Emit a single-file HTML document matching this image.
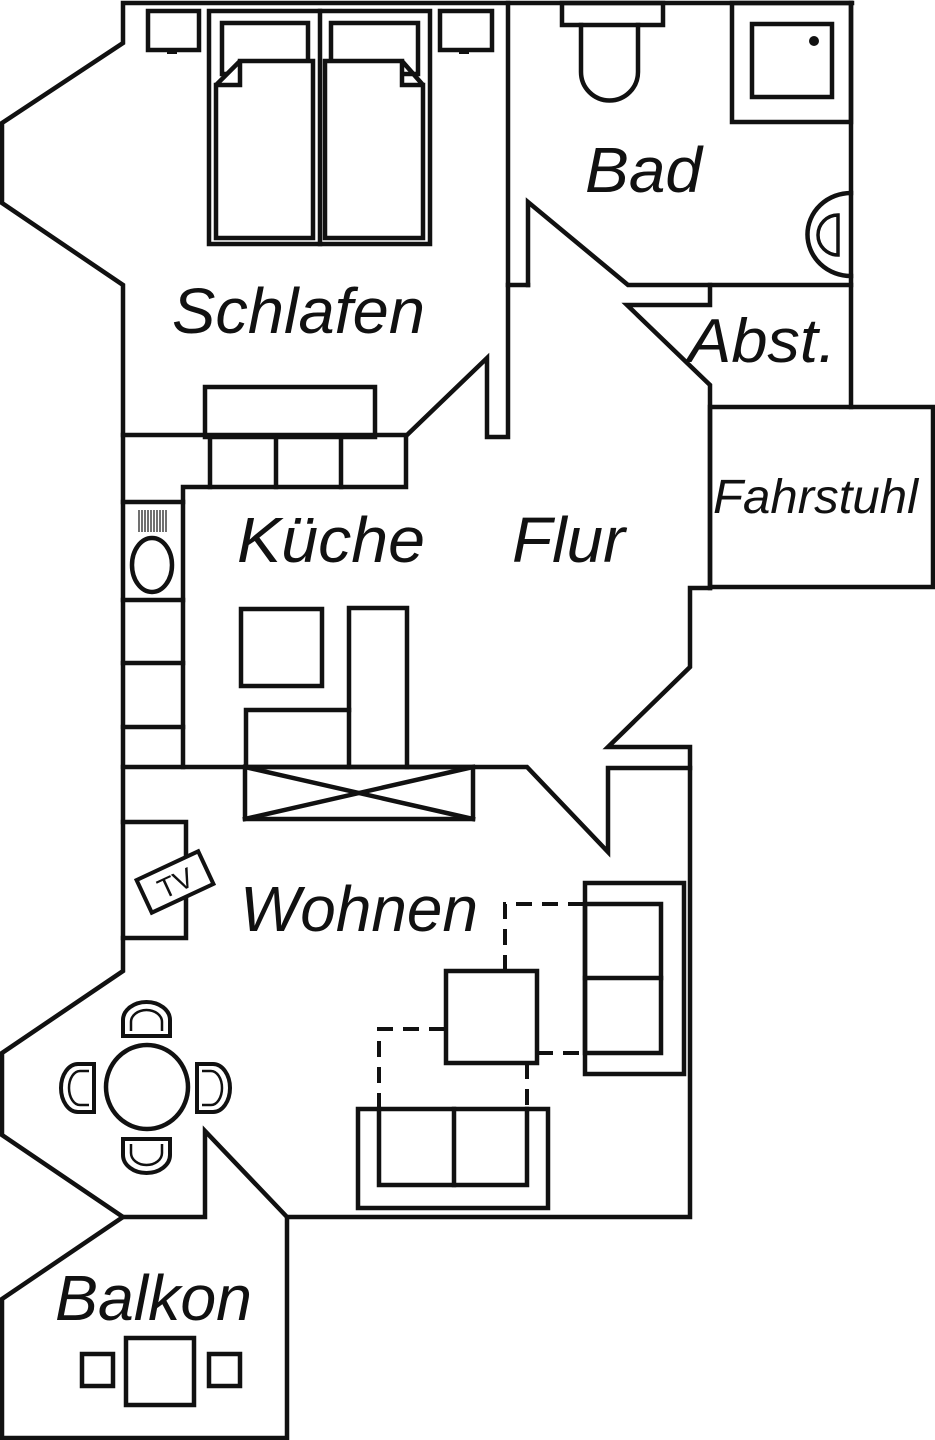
<!DOCTYPE html>
<html><head><meta charset="utf-8"><style>
html,body{margin:0;padding:0;background:#fff;}
svg{display:block;}
text{font-family:"Liberation Sans",sans-serif;font-style:italic;fill:#111;}
</style></head><body>
<svg width="935" height="1440" viewBox="0 0 935 1440" xmlns="http://www.w3.org/2000/svg">
<g fill="none" stroke="#111" stroke-width="4.5" stroke-linejoin="miter" stroke-linecap="square">
<!-- Outer left walls -->
<polyline points="852,3 123,3 123,43 2,123 2,203 123,285 123,971 2,1053 2,1135 123,1217 2,1299 2,1438 287,1438 287,1217 690,1217 690,747 608,747 690,667 690,588 710,588"/>
<!-- Schlafen/Bad wall -->
<polyline points="508,3 508,437 487,437 487,358 407,435 123,435"/>
<line x1="508" y1="285" x2="528" y2="285"/>
<!-- Bad -->
<polyline points="851,3 851,407"/>
<polyline points="528,285 528,202 628,285 851,285"/>
<polyline points="710,285 710,305 627,305 710,385 710,588"/>
<!-- Fahrstuhl -->
<rect x="710" y="407" width="223" height="180"/>
<!-- Kitchen -->
<polyline points="123,767 527,767 608,852 608,768 690,768"/>
<polyline points="183,767 183,487 406,487 406,437"/>
<line x1="210" y1="437" x2="210" y2="487"/>
<line x1="276" y1="437" x2="276" y2="487"/>
<line x1="341" y1="437" x2="341" y2="487"/>
<line x1="123" y1="502" x2="183" y2="502"/>
<line x1="123" y1="600" x2="183" y2="600"/>
<line x1="123" y1="663" x2="183" y2="663"/>
<line x1="123" y1="727" x2="183" y2="727"/>
<ellipse cx="152" cy="565" rx="20" ry="27"/>
<rect x="241" y="609" width="81" height="77"/>
<polyline points="349,767 349,608 407,608 407,767"/>
<polyline points="246,767 246,710 349,710"/>
<rect x="245" y="767" width="228" height="52"/>
<polyline points="245,767 473,819"/>
<polyline points="245,819 473,767"/>
<!-- Schlafen furniture -->
<rect x="148" y="11" width="51" height="39"/>
<rect x="440" y="11" width="52" height="39"/>
<rect x="209" y="11" width="221" height="233"/>
<line x1="320" y1="11" x2="320" y2="244"/>
<rect x="222" y="23" width="86" height="51"/>
<rect x="331" y="23" width="87" height="51"/>
<path d="M240,61 L313,61 L313,238 L216,238 L216,85 Z M240,61 L240,85 L216,85" fill="#fff"/>
<path d="M325,61 L402,61 L423,85 L423,238 L325,238 Z M402,61 L402,85 L423,85" fill="#fff"/>
<rect x="205" y="387" width="170" height="50"/>
<!-- Bad fixtures -->
<rect x="562" y="3" width="101" height="22"/>
<path d="M581,25 L581,72 A28.5,28.5 0 0 0 638,72 L638,25"/>
<rect x="732" y="3" width="119" height="119"/>
<rect x="752" y="24" width="80" height="73"/>
<path d="M851,193 A43,41 0 0 0 851,276"/>
<path d="M838,215 A20,20 0 0 0 838,255 Z" stroke-width="3.5"/>
<!-- Wohnen -->
<polyline points="123,822 186,822 186,938 123,938"/>
<polyline points="123,1217 205,1217 205,1131 287,1217"/>
<rect x="446" y="971" width="91" height="92"/>
<rect x="585" y="883" width="99" height="191"/>
<rect x="585" y="904" width="76" height="149"/>
<line x1="585" y1="978" x2="661" y2="978"/>
<rect x="358" y="1109" width="190" height="99"/>
<polyline points="379,1109 379,1185 527,1185 527,1109"/>
<line x1="454" y1="1109" x2="454" y2="1185"/>
<ellipse cx="147" cy="1087" rx="41" ry="42"/>
<!-- Balkon -->
<rect x="126" y="1338" width="68" height="67"/>
<rect x="82" y="1354" width="31" height="32"/>
<rect x="209" y="1354" width="31" height="32"/>
</g>
<g fill="#111">
<circle cx="814" cy="41" r="5"/>
<rect x="167" y="48" width="10" height="6"/>
<rect x="459" y="48" width="10" height="6"/>
</g>
<!-- sink hatch -->
<g stroke="#111" stroke-width="1.2">
<line x1="139" y1="510" x2="139" y2="532"/><line x1="142" y1="510" x2="142" y2="532"/><line x1="145" y1="510" x2="145" y2="532"/><line x1="148" y1="510" x2="148" y2="532"/><line x1="151" y1="510" x2="151" y2="532"/><line x1="154" y1="510" x2="154" y2="532"/><line x1="157" y1="510" x2="157" y2="532"/><line x1="160" y1="510" x2="160" y2="532"/><line x1="163" y1="510" x2="163" y2="532"/><line x1="166" y1="510" x2="166" y2="532"/>
</g>
<!-- dashed -->
<g fill="none" stroke="#111" stroke-width="4" stroke-dasharray="16,10">
<polyline points="505,971 505,904 585,904"/>
<polyline points="379,1109 379,1029 446,1029"/>
<line x1="537" y1="1053" x2="585" y2="1053"/>
<line x1="527" y1="1063" x2="527" y2="1109"/>
</g>
<!-- chairs -->
<g fill="#fff" stroke="#111">
<path d="M123,1036 L123,1020 A23.5,18 0 0 1 170,1020 L170,1036 Z" stroke-width="4"/>
<path d="M131,1031 L131,1022 A15.5,12 0 0 1 162,1022 L162,1031" fill="none" stroke-width="2.5"/>
<path d="M123,1139 L123,1155 A23.5,18 0 0 0 170,1155 L170,1139 Z" stroke-width="4"/>
<path d="M131,1144 L131,1153 A15.5,12 0 0 0 162,1153 L162,1144" fill="none" stroke-width="2.5"/>
<path d="M94,1064 L78,1064 A17,24 0 0 0 78,1112 L94,1112 Z" stroke-width="4"/>
<path d="M89,1071 L80,1071 A11,17 0 0 0 80,1105 L89,1105" fill="none" stroke-width="2.5"/>
<path d="M197,1064 L213,1064 A17,24 0 0 1 213,1112 L197,1112 Z" stroke-width="4"/>
<path d="M202,1071 L211,1071 A11,17 0 0 1 211,1105 L202,1105" fill="none" stroke-width="2.5"/>
</g>
<!-- TV -->
<g transform="translate(175,882) rotate(-25)">
<rect x="-34" y="-18" width="68" height="36" fill="#fff" stroke="#111" stroke-width="4"/>
<text x="0" y="11" font-size="28" text-anchor="middle" style="font-style:normal">TV</text>
</g>
<!-- labels -->
<text x="172" y="333" font-size="64" textLength="253" lengthAdjust="spacingAndGlyphs">Schlafen</text>
<text x="585" y="192" font-size="64" textLength="117" lengthAdjust="spacingAndGlyphs">Bad</text>
<text x="688" y="362" font-size="62" textLength="148" lengthAdjust="spacingAndGlyphs">Abst.</text>
<text x="713" y="513" font-size="48" textLength="205" lengthAdjust="spacingAndGlyphs">Fahrstuhl</text>
<text x="237" y="562" font-size="64" textLength="188" lengthAdjust="spacingAndGlyphs">Küche</text>
<text x="512" y="562" font-size="64" textLength="113" lengthAdjust="spacingAndGlyphs">Flur</text>
<text x="240" y="931" font-size="64" textLength="238" lengthAdjust="spacingAndGlyphs">Wohnen</text>
<text x="55" y="1320" font-size="64" textLength="197" lengthAdjust="spacingAndGlyphs">Balkon</text>
</svg>
</body></html>
